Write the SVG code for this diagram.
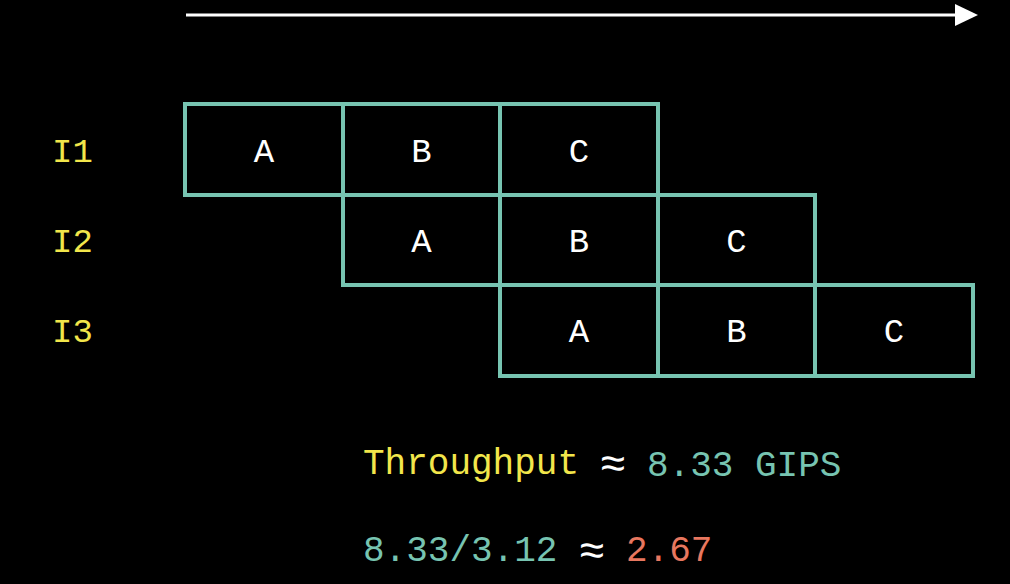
<svg xmlns="http://www.w3.org/2000/svg" width="1010" height="584" viewBox="0 0 1010 584">
<defs>
<style>
.cell{fill:#000;stroke:#77C4B1;stroke-width:4}
.t{font-family:"Liberation Mono","DejaVu Sans Mono",monospace;}
.cl{font-size:34px;fill:#fff;text-anchor:middle}
.lab{font-size:34px;fill:#F2E64B}
.big{font-size:36px}
.ap{font-size:44px;fill:#fff;text-anchor:middle}
</style>
</defs>
<rect width="1010" height="584" fill="#000"/>
<g id="connectors">
<line x1="186" y1="15" x2="956" y2="15" stroke="#fff" stroke-width="3"/>
<path d="M955,4 L978,15 L955,26 Z" fill="#fff"/>
</g>
<g id="labels" class="t lab">
<text x="52" y="162">I1</text>
<text x="52" y="252">I2</text>
<text x="52" y="342">I3</text>
</g>
<g id="row1">
<rect class="cell" x="185" y="104" width="158" height="91"/>
<rect class="cell" x="343" y="104" width="157" height="91"/>
<rect class="cell" x="500" y="104" width="158" height="91"/>
<text class="t cl" x="264" y="162">A</text>
<text class="t cl" x="421.5" y="162">B</text>
<text class="t cl" x="579" y="162">C</text>
</g>
<g id="row2">
<rect class="cell" x="343" y="195" width="157" height="90"/>
<rect class="cell" x="500" y="195" width="158" height="90"/>
<rect class="cell" x="658" y="195" width="157" height="90"/>
<text class="t cl" x="421.5" y="252">A</text>
<text class="t cl" x="579" y="252">B</text>
<text class="t cl" x="736.5" y="252">C</text>
</g>
<g id="row3">
<rect class="cell" x="500" y="285" width="158" height="91"/>
<rect class="cell" x="658" y="285" width="157" height="91"/>
<rect class="cell" x="815" y="285" width="158" height="91"/>
<text class="t cl" x="579" y="342">A</text>
<text class="t cl" x="736.5" y="342">B</text>
<text class="t cl" x="894" y="342">C</text>
</g>
<g id="formula" class="t big">
<text x="363" y="474" fill="#F2E64B">Throughput</text>
<text class="ap" x="613" y="478">≈</text>
<text x="647" y="476" fill="#77C4B1">8.33 GIPS</text>
<text x="363" y="561" fill="#77C4B1">8.33/3.12</text>
<text class="ap" x="592" y="565">≈</text>
<text x="626" y="561" fill="#E8775F">2.67</text>
</g>
</svg>
